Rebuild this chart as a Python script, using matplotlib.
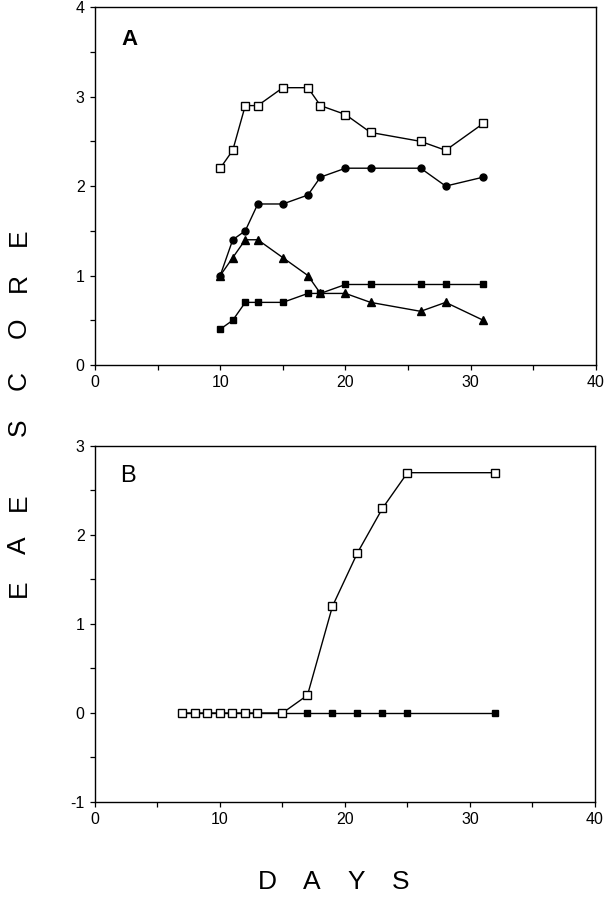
import matplotlib
matplotlib.use("Agg")
import matplotlib.pyplot as plt

plt.rcParams['font.family'] = ['Liberation Sans', 'DejaVu Sans']

# Panel A data
a_days = [10, 11, 12, 13, 15, 17, 18, 20, 22, 26, 28, 31]
a_open_sq = [2.2, 2.4, 2.9, 2.9, 3.1, 3.1, 2.9, 2.8, 2.6, 2.5, 2.4, 2.7]
a_circle = [1.0, 1.4, 1.5, 1.8, 1.8, 1.9, 2.1, 2.2, 2.2, 2.2, 2.0, 2.1]
a_triangle = [1.0, 1.2, 1.4, 1.4, 1.2, 1.0, 0.8, 0.8, 0.7, 0.6, 0.7, 0.5]
a_filled_sq = [0.4, 0.5, 0.7, 0.7, 0.7, 0.8, 0.8, 0.9, 0.9, 0.9, 0.9, 0.9]

# Panel B data
b_open_days = [7, 8, 9, 10, 11, 12, 13, 15, 17, 19, 21, 23, 25, 32]
b_open_sq = [0, 0, 0, 0, 0, 0, 0, 0, 0.2, 1.2, 1.8, 2.3, 2.7, 2.7]
b_filled_days = [7, 15, 17, 19, 21, 23, 25, 32]
b_filled_sq = [0, 0, 0, 0, 0, 0, 0, 0]

x_ticks = [0, 5, 10, 15, 20, 25, 30, 35, 40]
x_ticklabels = ['0', '', '10', '', '20', '', '30', '', '40']
a_yticks = [0, 0.5, 1, 1.5, 2, 2.5, 3, 3.5, 4]
a_yticklabels = ['0', '', '1', '', '2', '', '3', '', '4']
b_yticks = [-1, -0.5, 0, 0.5, 1, 1.5, 2, 2.5, 3]
b_yticklabels = ['-1', '', '0', '', '1', '', '2', '', '3']

fig = plt.figure(figsize=(6.10, 8.99), dpi=100)
axA = fig.add_axes([0.1557, 0.594, 0.8213, 0.398])
axB = fig.add_axes([0.1557, 0.1079, 0.8197, 0.396])

lw = 1.0
k = 'black'
axA.plot(a_days, a_filled_sq, '-s', color=k, lw=lw, ms=5, mfc=k, mec=k, zorder=2)
axA.plot(a_days, a_triangle, '-^', color=k, lw=lw, ms=6, mfc=k, mec=k, zorder=3)
axA.plot(a_days, a_circle, '-o', color=k, lw=lw, ms=5, mfc=k, mec=k, zorder=3)
axA.plot(a_days, a_open_sq, '-s', color=k, lw=lw, ms=6, mfc='white', mec=k, mew=1, zorder=3)

axB.plot(b_filled_days, b_filled_sq, '-s', color=k, lw=lw, ms=5, mfc=k, mec=k, zorder=2)
axB.plot(b_open_days, b_open_sq, '-s', color=k, lw=lw, ms=5.5, mfc='white', mec=k, mew=1, zorder=3)

for ax, yt, ytl, ylim in [(axA, a_yticks, a_yticklabels, (0, 4)),
                          (axB, b_yticks, b_yticklabels, (-1, 3))]:
    ax.set_xlim(0, 40)
    ax.set_ylim(*ylim)
    ax.set_xticks(x_ticks)
    ax.set_xticklabels(x_ticklabels)
    ax.set_yticks(yt)
    ax.set_yticklabels(ytl)
    ax.tick_params(direction='out', length=3.5, width=0.9, labelsize=11.5, pad=4)
    for s in ax.spines.values():
        s.set_linewidth(1.0)

axA.text(2.1, 3.52, 'A', fontsize=16, fontweight='bold', ha='left', va='bottom')
axB.text(2.0, 2.54, 'B', fontsize=17, ha='left', va='bottom')

# y label letters (bottom to top)
ylab = ['E', 'A', 'E', 'S', 'C', 'O', 'R', 'E']
ylab_py = [588, 545, 502, 427, 380, 328, 282, 237]
for ch, py in zip(ylab, ylab_py):
    fig.text(19 / 610, 1 - py / 899, ch, rotation=90, fontsize=19,
             ha='center', va='center')

xlab = ['D', 'A', 'Y', 'S']
xlab_px = [267, 312, 356, 401]
for ch, px in zip(xlab, xlab_px):
    fig.text(px / 610, 1 - 882 / 899, ch, fontsize=19, ha='center', va='center')

fig.savefig('out.png', dpi=100)
